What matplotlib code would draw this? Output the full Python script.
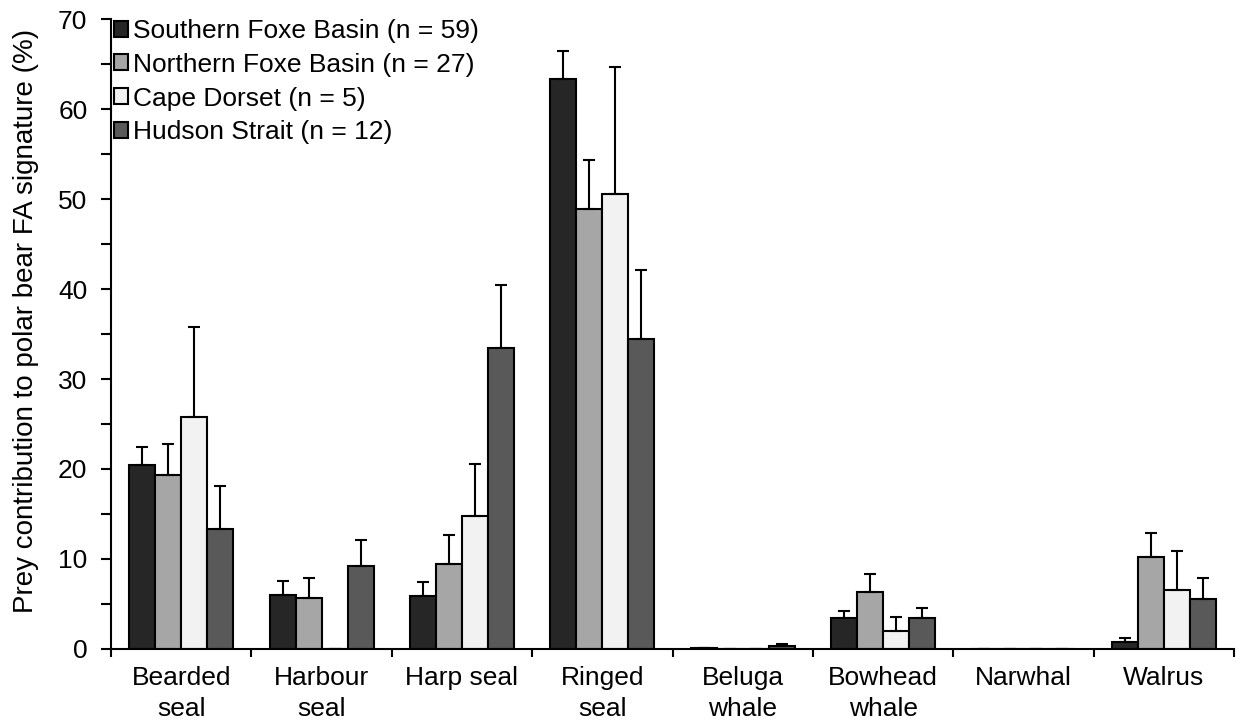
import matplotlib
matplotlib.use("Agg")
import matplotlib.pyplot as plt
import numpy as np
from matplotlib.ticker import MultipleLocator, FixedLocator, NullFormatter

plt.rcParams['font.family'] = ['Liberation Sans', 'DejaVu Sans']

categories = ["Bearded\nseal", "Harbour\nseal", "Harp seal", "Ringed\nseal",
              "Beluga\nwhale", "Bowhead\nwhale", "Narwhal", "Walrus"]
series_names = ["Southern Foxe Basin (n = 59)", "Northern Foxe Basin (n = 27)",
                "Cape Dorset (n = 5)", "Hudson Strait (n = 12)"]
southern_foxe = [20.4, 6.0, 5.9, 63.3, 0.1, 3.4, 0.0, 0.8]
southern_err  = [2.0, 1.6, 1.6, 3.2, 0.0, 0.8, 0.0, 0.4]
northern_foxe = [19.3, 5.7, 9.4, 48.9, 0.0, 6.3, 0.0, 10.2]
northern_err  = [3.5, 2.2, 3.3, 5.4, 0.0, 2.0, 0.0, 2.7]
cape_dorset   = [25.8, 0.05, 14.8, 50.6, 0.0, 2.0, 0.0, 6.6]
cape_err      = [10.0, 0.0, 5.8, 14.1, 0.0, 1.6, 0.0, 4.3]
hudson_strait = [13.3, 9.2, 33.4, 34.5, 0.3, 3.4, 0.0, 5.6]
hudson_err    = [4.8, 2.9, 7.0, 7.6, 0.3, 1.2, 0.0, 2.3]

values = [southern_foxe, northern_foxe, cape_dorset, hudson_strait]
errors = [southern_err, northern_err, cape_err, hudson_err]
colors = ["#262626", "#a6a6a6", "#f2f2f2", "#595959"]

fig = plt.figure(figsize=(12.36, 7.21), dpi=100)
ax = fig.add_axes([111/1236, (721-649)/721, (1234-111)/1236, (649-19)/721])

x = np.arange(len(categories))
w = 0.185
for i, (vals, errs, c, name) in enumerate(zip(values, errors, colors, series_names)):
    pos = x + (i - 1.5) * w
    ax.bar(pos, vals, width=w, color=c, edgecolor="black", linewidth=1.5, label=name,
           yerr=[np.zeros(len(errs)), errs],
           error_kw=dict(ecolor="black", elinewidth=1.5, capsize=4.5, capthick=1.5))

ax.set_xlim(-0.5, len(categories) - 0.5)
ax.set_ylim(0, 70)
ax.yaxis.set_major_locator(MultipleLocator(10))
ax.yaxis.set_minor_locator(MultipleLocator(5))
ax.set_xticks(x)
ax.set_xticklabels(categories, fontsize=19, linespacing=1.38)
ax.tick_params(axis='x', length=0, pad=12)
ax.xaxis.set_minor_locator(FixedLocator(np.arange(-0.5, len(categories), 1.0)))
ax.xaxis.set_minor_formatter(NullFormatter())
ax.tick_params(axis='x', which='minor', length=6, width=1.5, direction='out')
ax.tick_params(axis='y', which='major', length=7, width=1.5, labelsize=19, direction='out', pad=10)
ax.tick_params(axis='y', which='minor', length=7, width=1.5, direction='out')
for s in ['top', 'right']:
    ax.spines[s].set_visible(False)
for s in ['left', 'bottom']:
    ax.spines[s].set_linewidth(1.5)
ax.set_ylabel("Prey contribution to polar bear FA signature (%)", fontsize=20)
ax.yaxis.set_label_coords(-0.064, 0.52)

leg = ax.legend(loc='upper left', bbox_to_anchor=(0.0024, 1.0), frameon=False, fontsize=19,
                handlelength=0.55, handleheight=0.55, handletextpad=0.2, labelspacing=0.37,
                borderaxespad=0, borderpad=0)

fig.savefig("out.png", dpi=100)
